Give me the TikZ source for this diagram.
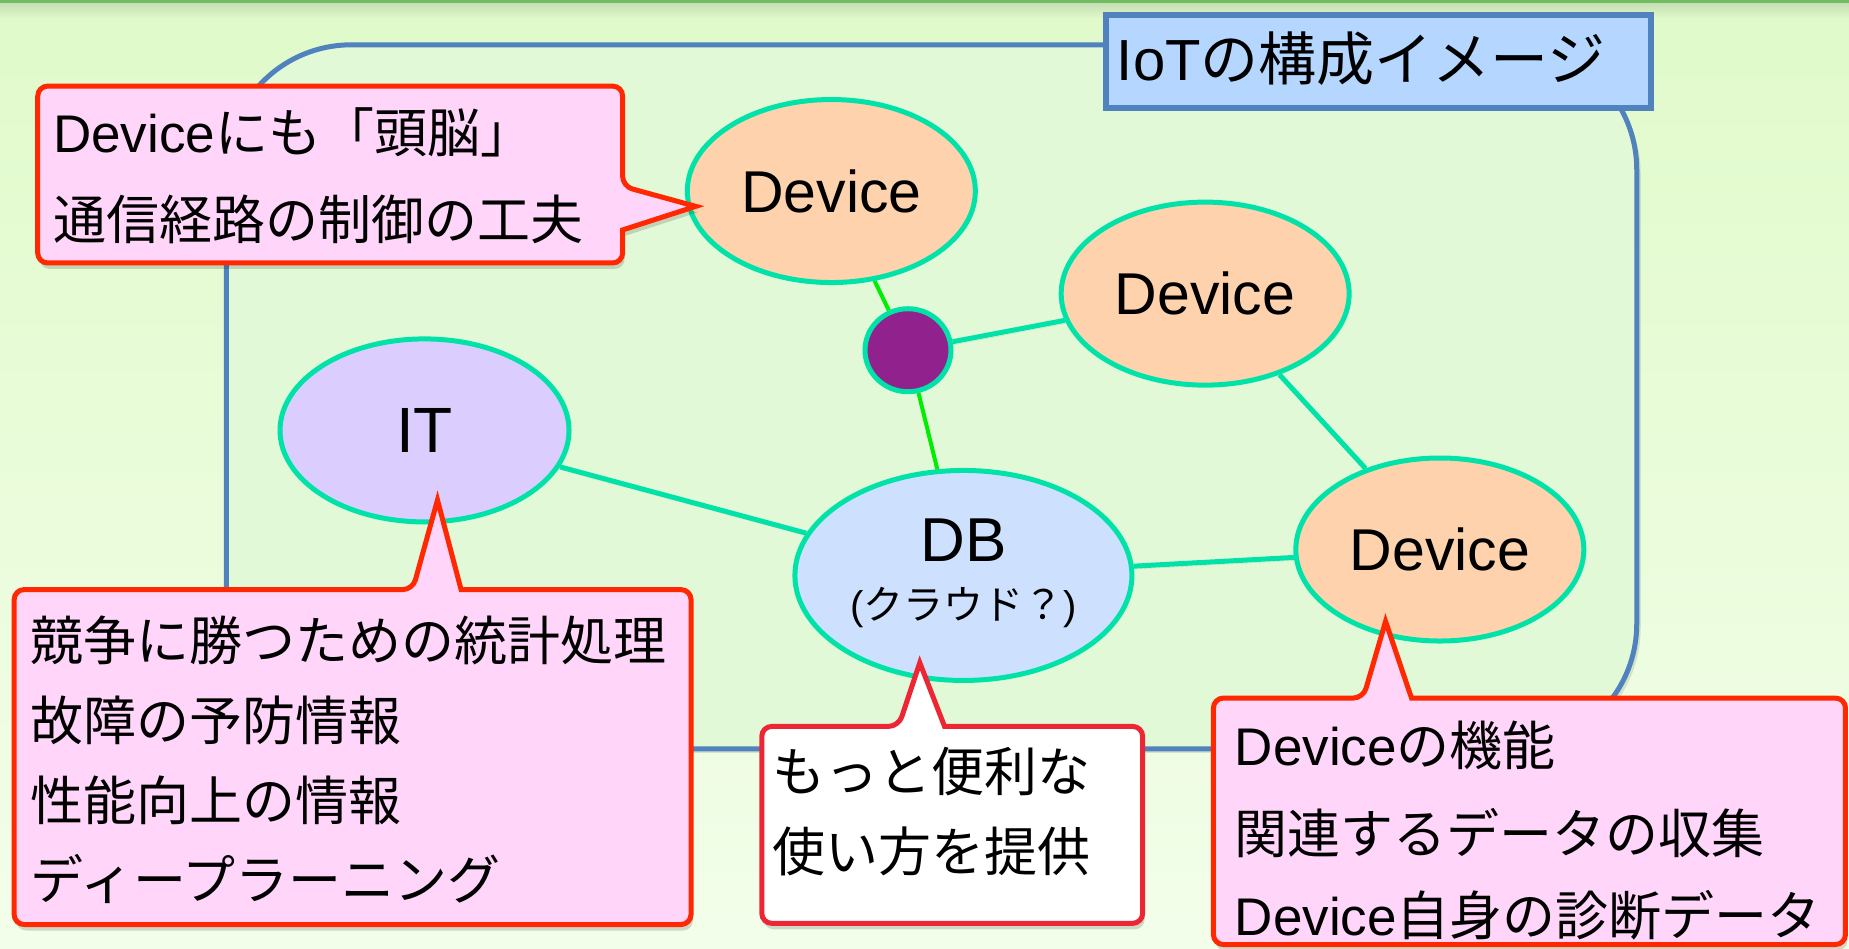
\documentclass[tikz,border=0pt]{standalone}
\usepackage{fontspec}
\setmainfont{Liberation Sans}
\newfontfamily\jp{Noto Sans CJK JP}
\usetikzlibrary{shapes.geometric}
\definecolor{bgtop}{RGB}{224,250,202}
\definecolor{bgbot}{RGB}{243,254,234}
\definecolor{topline}{RGB}{112,188,96}
\definecolor{topshade}{RGB}{196,222,178}
\definecolor{panelfill}{RGB}{226,249,216}
\definecolor{bluebord}{RGB}{80,130,190}
\definecolor{titlefill}{RGB}{181,215,255}
\definecolor{tealc}{RGB}{0,226,168}
\definecolor{greenc}{RGB}{0,238,0}
\definecolor{devfill}{RGB}{253,210,172}
\definecolor{itfill}{RGB}{220,205,255}
\definecolor{dbfill}{RGB}{205,225,255}
\definecolor{hubfill}{RGB}{145,33,140}
\definecolor{calred}{RGB}{255,40,0}
\definecolor{calpink}{RGB}{255,214,250}
\definecolor{dbred}{RGB}{236,38,52}
\pgfdeclarelayer{back}
\pgfdeclarelayer{edges}
\pgfsetlayers{back,edges,main}
\begin{document}
\begin{tikzpicture}[x=1.1792pt,y=-1.1792pt,
  ell/.style={ellipse,draw=tealc,line width=5pt,inner sep=0pt},
  devnode/.style={ell,fill=devfill,minimum width=288pt,minimum height=183pt,font=\fontsize{59}{59}\selectfont},
  link/.style={draw=tealc,line width=5pt,preaction={draw=black,opacity=.10,transform canvas={shift={(1.5pt,-3pt)}}}},
  glink/.style={draw=greenc,line width=4pt},
  callout/.style={draw=calred,fill=calpink,line width=5pt,line join=miter,
    preaction={fill=black,opacity=.15,transform canvas={shift={(2pt,-6pt)}}}},
  ctext/.style={anchor=base west,inner sep=0pt,font=\fontsize{53}{53}\selectfont}
]
\useasboundingbox (0,0) rectangle (1568,804);
\begin{pgfonlayer}{back}
  \shade[top color=bgtop,bottom color=bgbot] (0,0) rectangle (1568,804);
  \shade[top color=topshade,bottom color=bgtop] (0,2) rectangle (1568,16);
  \fill[topline] (0,0) rectangle (1568,2.2);
  \draw[bluebord,line width=5pt,fill=panelfill,rounded corners=125pt,
    preaction={fill=black,opacity=.10,transform canvas={shift={(4pt,-4pt)}}}]
    (192,38) rectangle (1388,635);
  \node[draw=bluebord,line width=6pt,fill=titlefill,inner sep=0pt,anchor=north west,
    minimum width=545pt,minimum height=93pt] (titlebox) at (935,10) {};
  \node[anchor=base west,inner sep=0pt,font=\fontsize{58}{58}\selectfont] (titletext) at (947,68) {IoT{\jp の構成イメージ}};
\end{pgfonlayer}

% nodes
\node[devnode] (dev1) at (705,162) {Device};
\node[devnode] (dev2) at (1022,249) {Device};
\node[devnode] (dev3) at (1221,466) {Device};
\node[ell,fill=hubfill,minimum width=86pt,minimum height=83pt] (hub) at (770,297) {};
\node[ell,fill=itfill,minimum width=289pt,minimum height=183pt,font=\fontsize{64}{64}\selectfont] (it) at (360,365) {IT};
\node[ell,fill=dbfill,minimum width=337pt,minimum height=210pt] (db) at (817,488) {};
\node[inner sep=0pt,font=\fontsize{62}{62}\selectfont] (dbt1) at (817,458) {DB};
\node[inner sep=0pt,font=\fontsize{40}{40}\selectfont] (dbt2) at (817,515) {({\jp クラウド？})};

% connectors
\begin{pgfonlayer}{edges}
  \draw[glink] (dev1) -- (hub);
  \draw[glink] (hub) -- (db);
  \draw[link] (hub) -- (dev2);
  \draw[link] (dev2) -- (dev3);
  \draw[link] (it) -- (db);
  \draw[link] (db) -- (dev3);
\end{pgfonlayer}

% callout A (points right to dev1)
\draw[callout] (32,150) [rounded corners=10pt] -- (32,73) -- (528,73) -- (528,158)
  [sharp corners] -- (590,175) -- (528,195) [rounded corners=10pt] -- (528,223) -- (32,223) -- cycle;
\node[ctext] (a1) at (45,129) {Device{\jp にも「頭脳」}};
\node[ctext] (a2) at (45,203) {\jp 通信経路の制御の工夫};

% callout B (IT)
\draw[callout] (12,640) [rounded corners=10pt] -- (12,500) -- (350,500)
  [sharp corners] -- (371,424) -- (391,500) [rounded corners=10pt] -- (586,500) -- (586,784) -- (12,784) -- cycle;
\node[ctext] (b1) at (26,560) {\jp 競争に勝つための統計処理};
\node[ctext] (b2) at (26,628) {\jp 故障の予防情報};
\node[ctext] (b3) at (26,696) {\jp 性能向上の情報};
\node[ctext] (b4) at (26,763) {\jp ディープラーニング};

% callout C (DB)
\draw[callout,draw=dbred,fill=white] (646,700) [rounded corners=10pt] -- (646,616) -- (762,616)
  [sharp corners] -- (780,562) -- (801,616) [rounded corners=10pt] -- (969,616) -- (969,783) -- (646,783) -- cycle;
\node[ctext] (c1) at (655,671) {\jp もっと便利な};
\node[ctext] (c2) at (655,739) {\jp 使い方を提供};

% callout D (Device)
\draw[callout] (1029,700) [rounded corners=10pt] -- (1029,592) -- (1156,592)
  [sharp corners] -- (1175,527) -- (1197,592) [rounded corners=10pt] -- (1565,592) -- (1565,801) -- (1029,801) -- cycle;
\node[ctext] (d1) at (1047,649) {Device{\jp の機能}};
\node[ctext] (d2) at (1047,724) {\jp 関連するデータの収集};
\node[ctext] (d3) at (1047,793) {Device{\jp 自身の診断データ}};
\end{tikzpicture}
\end{document}
